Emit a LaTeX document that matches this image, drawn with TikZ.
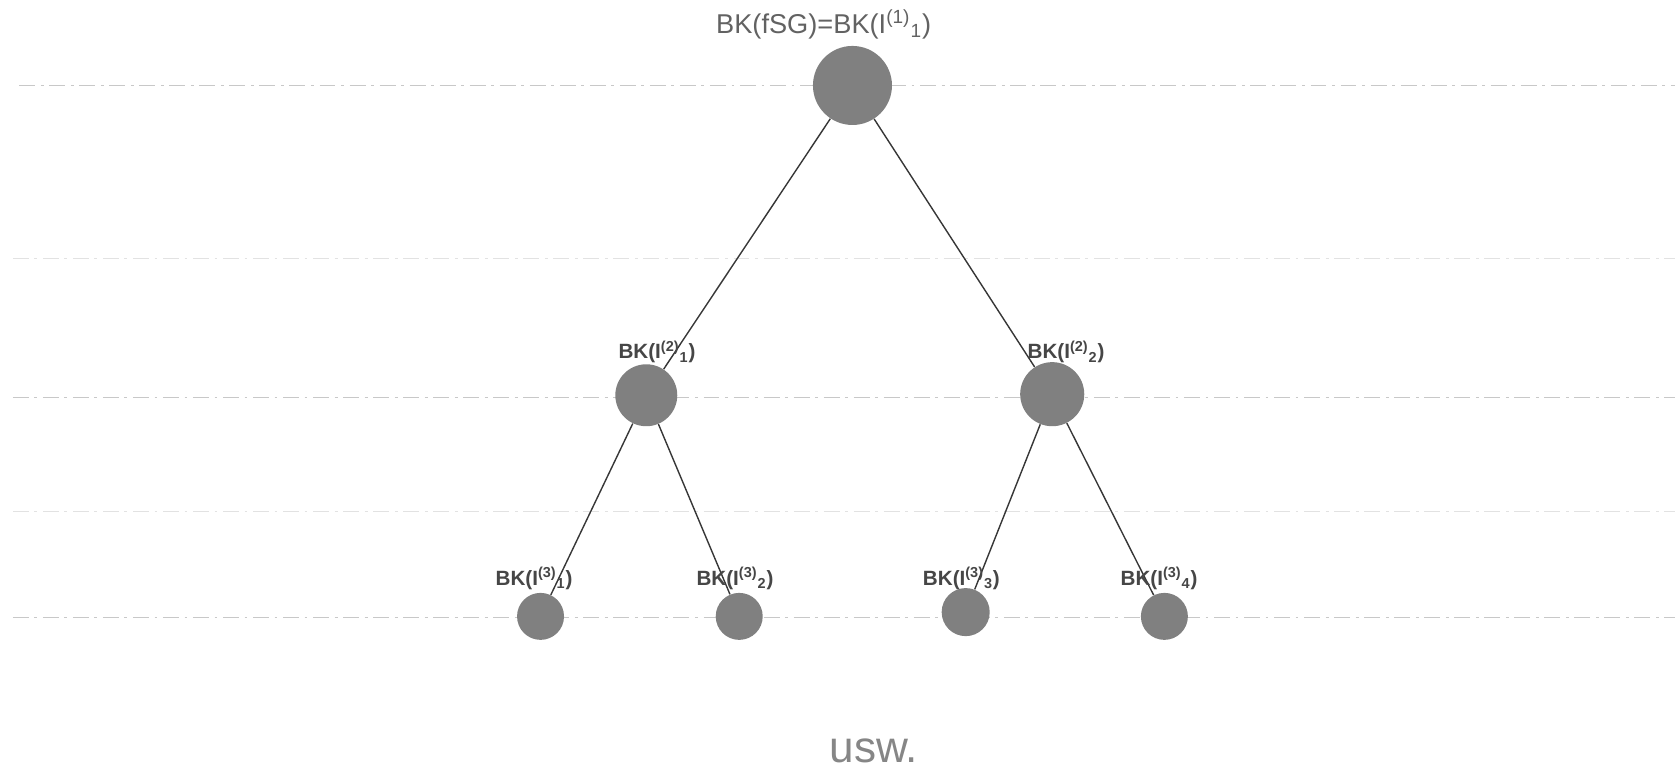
\documentclass[tikz,border=0pt]{standalone}
\usepackage{fontspec}
\setmainfont{Liberation Sans}
\definecolor{knotgray}{RGB}{128,128,128}
\definecolor{guidegray}{RGB}{200,200,200}
\definecolor{guidelight}{RGB}{226,226,226}
\definecolor{branchgray}{RGB}{55,55,55}
\definecolor{labelgray}{RGB}{70,70,70}
\begin{document}
\begin{tikzpicture}[x=0.02cm,y=-0.02cm,
        guideline/.style={guidegray,line width=0.85pt,dash pattern=on 8.5pt off 3pt on 1.5pt off 3pt},
        bk/.style={circle,fill=knotgray,inner sep=0pt},
        bklabel/.style={text=labelgray,font=\fontsize{11}{13}\selectfont\bfseries,anchor=base,inner sep=0pt},
        branch/.style={branchgray,line width=0.75pt}]
        \useasboundingbox (0,0) rectangle (1568,723);
        \draw[guideline] (18,80) -- (1568,80);
        \draw[guideline,guidelight] (12,242) -- (1568,242);
        \draw[guideline] (12,372) -- (1568,372);
        \draw[guideline,guidelight] (12,479) -- (1568,479);
        \draw[guideline] (12,578) -- (1568,578);
        \node[bk,minimum size=1.48cm] (root) at (798,80) {};
        \node[bk,minimum size=1.16cm] (ia) at (605,370) {};
        \node[bk,minimum size=1.20cm] (ib) at (985,369) {};
        \node[bk,minimum size=0.88cm] (iia) at (506,577) {};
        \node[bk,minimum size=0.88cm] (iib) at (692,577) {};
        \node[bk,minimum size=0.90cm] (iic) at (904,573) {};
        \node[bk,minimum size=0.88cm] (iid) at (1090,577) {};
        \draw[branch] (root) -- (ia);
        \draw[branch] (root) -- (ib);
        \draw[branch] (ia) -- (iia);
        \draw[branch] (ia) -- (iib);
        \draw[branch] (ib) -- (iic);
        \draw[branch] (ib) -- (iid);
        \node[bklabel,text=labelgray!85,font=\fontsize{14.5}{17}\selectfont] (rootlabel) at (771,31) {BK(fSG)=BK(I\textsuperscript{(1)}\textsubscript{1})};
        \node[bklabel] (ialabel) at (615,336) {BK(I\textsuperscript{(2)}\textsubscript{1})};
        \node[bklabel] (iblabel) at (998,336) {BK(I\textsuperscript{(2)}\textsubscript{2})};
        \node[bklabel] (iialabel) at (500,548) {BK(I\textsuperscript{(3)}\textsubscript{1})};
        \node[bklabel] (iiblabel) at (688,548) {BK(I\textsuperscript{(3)}\textsubscript{2})};
        \node[bklabel] (iiclabel) at (900,548) {BK(I\textsuperscript{(3)}\textsubscript{3})};
        \node[bklabel] (iidlabel) at (1085,548) {BK(I\textsuperscript{(3)}\textsubscript{4})};
        \node[bklabel,text=knotgray!95,font=\fontsize{23.5}{28}\selectfont] (usw) at (818,714) {usw.};
\end{tikzpicture}
\end{document}
